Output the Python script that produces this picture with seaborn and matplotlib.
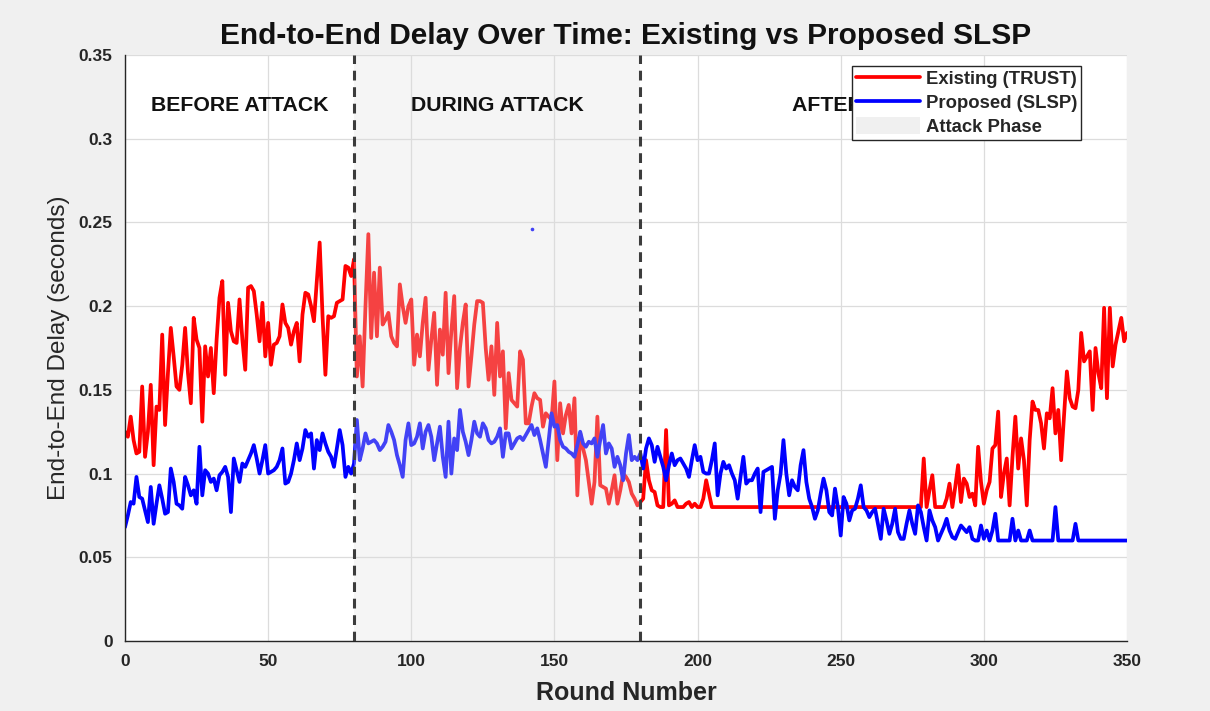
import numpy as np
import pandas as pd
import matplotlib
matplotlib.use("Agg")
import matplotlib.pyplot as plt
from matplotlib.patches import Patch
from matplotlib.lines import Line2D
import seaborn as sns

sns.set_style("white")
plt.rcParams['font.family'] = ['Liberation Sans', 'DejaVu Sans']

# ---------------- data ----------------
existing_trust = [
    0.125,0.122,0.134,0.120,0.112,0.113,0.152,0.110,0.125,0.153,
    0.105,0.140,0.138,0.183,0.129,0.160,0.187,0.170,0.152,0.150,
    0.165,0.187,0.160,0.142,0.193,0.180,0.175,0.131,0.176,0.158,
    0.175,0.148,0.180,0.205,0.215,0.159,0.202,0.185,0.179,0.178,
    0.204,0.180,0.162,0.211,
    0.212,0.209,0.195,0.179,0.202,0.170,0.190,0.165,0.177,0.178,
    0.182,0.201,0.190,0.187,0.177,0.185,0.190,0.167,0.195,0.208,
    0.207,0.200,0.191,0.215,0.238,0.194,0.159,0.194,0.193,0.194,
    0.202,0.203,0.204,0.224,0.223,0.218,0.228,0.158,0.182,0.152,
    0.200,0.243,
    0.181,0.220,0.182,0.223,0.189,0.192,0.196,0.182,0.178,0.176,
    0.213,0.200,0.190,0.200,0.204,0.165,0.183,0.170,0.190,0.205,
    0.162,0.180,0.196,0.153,0.186,0.171,0.208,0.160,0.185,0.206,
    0.151,0.175,0.190,0.201,0.152,0.170,0.189,0.203,
    0.203,0.202,0.175,0.156,0.176,0.147,0.190,0.158,0.173,0.127,
    0.160,0.144,0.142,0.140,0.173,0.168,0.130,0.130,0.140,0.148,
    0.145,0.144,0.128,0.136,0.134,0.132,0.155,0.108,0.142,0.124,
    0.135,0.141,0.124,0.145,0.087,0.124,0.115,0.108,0.095,0.082,
    0.095,0.134,0.093,0.092,0.091,0.082,0.090,0.099,0.082,0.090,
    0.100,0.098,0.095,0.088,0.085,0.081,0.083,0.085,0.108,0.096,
    0.090,0.089,0.081,0.080,0.080,0.126,0.081,0.082,0.084,0.080,
    0.080,0.080,0.082,0.083,0.080,0.082,0.080,0.080,0.085,0.096,
    0.088,0.080,
    0.080,0.080,0.080,0.080,0.080,0.080,0.080,0.080,0.080,0.080,
    0.080,0.080,0.080,0.080,0.080,0.080,0.080,0.080,0.080,0.080,
    0.080,0.080,0.080,0.080,0.080,0.080,0.080,0.080,0.080,0.080,
    0.080,0.080,0.080,0.080,0.080,0.080,0.080,0.080,0.080,0.080,
    0.080,0.080,0.080,0.080,0.080,0.080,0.080,0.080,0.080,0.080,
    0.080,0.080,0.080,0.080,0.080,0.080,0.080,0.080,0.080,0.080,
    0.080,0.080,0.080,0.080,0.080,0.080,0.080,0.080,0.080,0.080,
    0.080,0.080,0.080,
    0.109,0.080,0.090,0.099,0.080,0.080,0.080,0.080,0.085,0.094,
    0.080,0.092,0.105,0.083,0.097,0.094,0.086,
    0.088,0.081,0.116,0.095,0.082,0.090,0.095,0.115,0.117,0.137,
    0.086,0.100,0.109,0.081,0.110,0.134,0.103,0.121,0.108,0.081,
    0.120,0.143,0.138,0.138,0.130,0.115,0.136,0.133,0.151,0.124,
    0.138,0.108,0.135,0.161,0.145,0.140,0.139,0.150,0.184,0.167,
    0.170,0.173,0.138,0.175,0.160,0.151,0.199,0.145,0.199,0.164,
    0.177,0.185,0.193,0.179,0.184,
]

proposed_slsp = [
    0.068,0.075,0.083,0.082,0.098,0.086,0.085,0.078,0.071,0.092,
    0.070,0.082,0.093,0.085,0.076,0.077,0.103,0.095,0.082,0.081,
    0.079,0.098,0.093,0.087,0.090,0.082,0.116,0.087,0.102,0.100,
    0.095,0.097,0.090,0.099,0.101,0.104,0.098,0.077,0.109,0.102,
    0.095,0.106,0.104,0.108,
    0.112,0.117,0.109,0.100,0.108,0.117,0.100,0.101,0.102,0.104,
    0.108,0.115,0.094,0.095,0.100,0.108,0.118,0.108,0.115,0.126,
    0.122,0.124,0.103,0.120,0.114,0.124,0.118,0.113,0.110,0.104,
    0.115,0.126,0.117,0.098,0.104,0.100,0.106,0.132,0.108,0.115,
    0.124,0.118,
    0.119,0.120,0.118,0.114,0.116,0.119,0.129,0.125,0.120,0.111,
    0.105,0.098,0.120,0.130,0.117,0.118,0.122,0.130,0.115,0.125,
    0.129,0.122,0.108,0.118,0.128,0.110,0.098,0.131,0.100,0.121,
    0.114,0.138,0.125,0.119,0.111,0.120,0.131,0.124,
    0.122,0.130,0.127,0.120,0.118,0.119,0.122,0.127,0.110,0.124,
    0.124,0.115,0.118,0.121,0.122,0.120,0.123,0.126,0.129,0.123,
    0.127,0.120,0.112,0.104,0.120,0.136,0.128,0.129,0.120,0.116,
    0.115,0.113,0.112,0.110,0.117,0.125,0.118,0.116,0.119,0.118,
    0.121,0.110,0.120,0.129,0.112,0.118,0.115,0.104,0.110,0.105,
    0.096,0.112,0.123,0.108,0.110,0.108,0.112,0.103,0.115,0.121,
    0.117,0.107,0.116,0.110,0.104,0.096,0.105,0.112,0.105,0.108,
    0.109,0.106,0.103,0.098,0.108,0.117,0.108,0.110,0.101,0.100,
    0.100,0.108,0.118,0.087,0.100,0.107,0.103,0.105,0.100,0.096,
    0.085,0.098,0.110,0.094,0.096,0.096,0.100,0.103,0.077,0.101,
    0.102,0.103,0.104,0.073,0.090,0.100,0.120,0.100,0.087,0.096,
    0.092,0.090,0.105,0.114,0.095,0.085,0.080,0.073,0.078,0.088,
    0.097,0.090,0.077,
    0.075,0.091,0.080,0.063,0.086,0.082,0.072,0.078,0.079,0.085,
    0.093,0.080,0.078,0.074,0.077,0.079,0.070,0.061,0.079,0.072,
    0.064,0.070,0.079,0.065,0.061,0.061,0.070,0.078,0.070,0.064,
    0.081,0.077,0.068,0.060,0.078,0.072,0.068,0.060,0.064,0.068,
    0.073,0.066,0.062,0.061,0.065,0.069,0.067,0.065,
    0.068,0.061,0.060,0.060,0.069,0.061,0.066,0.060,0.066,0.076,
    0.060,0.060,0.060,0.060,0.060,0.073,0.060,0.066,0.060,0.060,
    0.060,0.066,0.060,0.060,0.060,0.060,0.060,0.060,0.060,0.060,
    0.080,0.060,0.060,0.060,0.060,0.060,0.060,0.070,0.060,0.060,
    0.060,0.060,0.060,0.060,0.060,0.060,0.060,0.060,0.060,0.060,
    0.060,0.060,0.060,0.060,0.060,0.060,
]

rounds = list(range(len(existing_trust)))

stray_round = [142]
stray_delay = [0.246]

attack_start, attack_end = 80, 180
phase_labels = ["BEFORE ATTACK", "DURING ATTACK", "AFTER ATTACK"]
phase_label_x = [40, 130, 261]
phase_label_y = 0.320

xticks = [0, 50, 100, 150, 200, 250, 300, 350]
yticks = [0, 0.05, 0.1, 0.15, 0.2, 0.25, 0.3, 0.35]
ytick_labels = ['0', '0.05', '0.1', '0.15', '0.2', '0.25', '0.3', '0.35']

df = pd.DataFrame({"Round": rounds, "Existing": existing_trust, "Proposed": proposed_slsp})

# ---------------- figure ----------------
fig = plt.figure(figsize=(12.1, 7.11), dpi=100, facecolor='#f0f0f0')
ax = fig.add_axes([125/1210, 1 - 641/711, (1127-125)/1210, (641-55)/711])
ax.set_facecolor('white')

sns.lineplot(data=df, x="Round", y="Existing", ax=ax, color='#ff0000', lw=2.7, zorder=2)
sns.lineplot(data=df, x="Round", y="Proposed", ax=ax, color='#0000ff', lw=2.7, zorder=2)
ax.plot(stray_round, stray_delay, 'o', color='#0000ff', ms=1.6, zorder=2)

ax.axvspan(attack_start, attack_end, facecolor=(0.87, 0.87, 0.87), alpha=0.3, lw=0, zorder=3)
for xv in (attack_start, attack_end):
    ax.axvline(xv, color='#3c3c3c', ls=(0, (3.2, 2.2)), lw=2.2, zorder=4)

for lbl, xl in zip(phase_labels, phase_label_x):
    ax.text(xl, phase_label_y, lbl, ha='center', va='center', fontsize=15.3,
            fontweight='bold', color='#111111', zorder=5)

ax.set_xlim(0, 350)
ax.set_ylim(0, 0.35)
ax.set_xticks(xticks)
ax.set_yticks(yticks)
ax.set_yticklabels(ytick_labels)
ax.grid(True, color='#dcdcdc', lw=0.9, zorder=0)
ax.set_axisbelow(True)

for s in ('top', 'right'):
    ax.spines[s].set_visible(False)
for s in ('left', 'bottom'):
    ax.spines[s].set_color('#262626')
    ax.spines[s].set_linewidth(1.0)

ax.tick_params(direction='in', length=5, width=1, colors='#262626', labelsize=12.5)
ax.tick_params(axis='y', pad=9)
ax.tick_params(axis='x', pad=9)
for t in ax.get_xticklabels() + ax.get_yticklabels():
    t.set_fontweight('bold')

ax.set_xlabel("Round Number", fontsize=18, fontweight='bold', color='#262626', labelpad=9)
ax.set_ylabel("End-to-End Delay (seconds)", fontsize=17.5, color='#262626', labelpad=6)
ax.set_title("End-to-End Delay Over Time: Existing vs Proposed SLSP", fontsize=21.5,
             fontweight='bold', color='#111111', pad=8)

handles = [Line2D([0], [0], color='#ff0000', lw=2.7),
           Line2D([0], [0], color='#0000ff', lw=2.7),
           Patch(facecolor='#f0f0f0', edgecolor='none')]
leg = ax.legend(handles, ["Existing (TRUST)", "Proposed (SLSP)", "Attack Phase"],
                loc='upper right', bbox_to_anchor=(0.954, 0.981), borderaxespad=0,
                fancybox=False, framealpha=1, edgecolor='#262626', handlelength=3.5,
                handleheight=1.0, labelspacing=0.28, borderpad=0.2, handletextpad=0.3,
                prop={'weight': 'bold', 'size': 13.3})
leg.get_frame().set_linewidth(1.0)
leg.set_zorder(10)

fig.savefig("out.png", dpi=100, facecolor=fig.get_facecolor())
